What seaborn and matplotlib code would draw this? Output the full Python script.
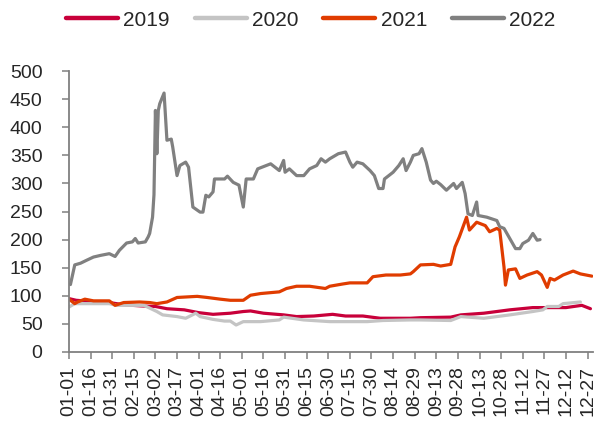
import matplotlib
matplotlib.use("Agg")
import matplotlib.pyplot as plt
import seaborn as sns
import pandas as pd

# ---- data (day-of-year index, value) ----
tick_labels = ["01-01", "01-16", "01-31", "02-15", "03-02", "03-17", "04-01", "04-16",
               "05-01", "05-16", "05-31", "06-15", "06-30", "07-15", "07-30", "08-14",
               "08-29", "09-13", "09-28", "10-13", "10-28", "11-12", "11-27", "12-12", "12-27"]
years = ["2019", "2020", "2021", "2022"]

days_2019 = [0, 5, 15, 28, 38, 50, 60, 68, 80, 90, 100, 112, 121, 126, 135, 149, 158, 170,
             183, 192, 204, 216, 237, 244, 265, 272, 288, 306, 322, 331, 345, 356, 362]
vals_2019 = [95, 92, 90, 88, 84, 82, 81, 77, 75, 70, 67, 69, 72, 73, 69, 66, 63, 64,
             67, 64, 64, 60, 60, 61, 62, 66, 69, 75, 79, 79, 79, 83, 77]

days_2020 = [0, 4, 12, 28, 33, 52, 61, 65, 75, 81, 88, 91, 100, 108, 112, 116, 121, 133,
             146, 149, 163, 181, 207, 218, 237, 244, 265, 272, 288, 306, 322, 329, 332,
             340, 343, 355]
vals_2020 = [80, 86, 86, 86, 83, 83, 72, 66, 63, 60, 69, 63, 58, 55, 55, 48, 54, 54,
             57, 62, 57, 54, 54, 56, 57, 57, 56, 63, 60, 66, 72, 75, 81,
             81, 86, 89]

days_2021 = [0, 4, 6, 11, 17, 28, 32, 38, 49, 56, 61, 68, 75, 89, 96, 105, 112, 121, 126,
             133, 146, 151, 158, 167, 178, 181, 190, 195, 207, 211, 220, 230, 237, 239,
             244, 253, 258, 265, 268, 271, 276, 278, 283, 289, 292, 297, 299, 302, 303,
             305, 310, 313, 318, 325, 328, 332, 334, 337, 343, 350, 355, 363]
vals_2021 = [94, 86, 89, 94, 91, 91, 83, 88, 89, 88, 86, 89, 97, 99, 97, 94, 92, 92, 101,
             104, 107, 113, 117, 117, 113, 117, 121, 123, 123, 134, 137, 137, 139, 143,
             155, 156, 153, 156, 187, 205, 240, 217, 231, 225, 214, 220, 217, 151, 119,
             146, 148, 131, 137, 143, 137, 115, 131, 128, 137, 144, 139, 135]

days_2022 = [1, 4, 8, 12, 17, 22, 28, 32, 35, 40, 44, 46, 48, 53, 55, 56, 58, 59, 60, 61,
             62, 63, 66, 68, 71, 72, 75, 77, 81, 83, 86, 91, 93, 95, 97, 100, 101, 108,
             110, 114, 118, 121, 123, 128, 131, 137, 140, 146, 149, 150, 153, 158, 163,
             167, 172, 175, 178, 181, 187, 192, 195, 197, 200, 204, 209, 212, 215, 218,
             219, 225, 229, 232, 234, 237, 239, 243, 245, 248, 251, 253, 255, 258, 262,
             267, 269, 273, 275, 277, 280, 283, 284, 290, 297, 299, 302, 304, 310, 313,
             315, 319, 322, 325, 327]
vals_2022 = [120, 155, 158, 163, 169, 172, 175, 170, 181, 194, 196, 202, 194, 196, 205,
             211, 240, 280, 430, 353, 430, 442, 461, 377, 379, 365, 314, 332, 338, 329,
             258, 249, 249, 279, 276, 285, 308, 308, 313, 302, 297, 258, 308, 308, 326,
             332, 335, 323, 341, 320, 326, 314, 314, 326, 332, 344, 338, 344, 353, 356,
             338, 329, 338, 335, 323, 314, 291, 291, 308, 320, 332, 344, 323, 338, 350,
             353, 362, 338, 306, 300, 304, 298, 288, 300, 291, 302, 282, 246, 243, 267,
             243, 240, 234, 223, 220, 211, 184, 184, 193, 199, 211, 199, 200]

colors = ["#C8003A", "#C4C4C4", "#E03C00", "#808080"]

# ---- long-form table ----
frames = []
for y, d, v in zip(years, [days_2019, days_2020, days_2021, days_2022],
                   [vals_2019, vals_2020, vals_2021, vals_2022]):
    frames.append(pd.DataFrame({"day": d, "value": v, "year": y}))
df = pd.concat(frames, ignore_index=True)

sns.set_style("white")
plt.rcParams["font.family"] = ["Liberation Sans", "DejaVu Sans"]

fig = plt.figure(figsize=(6.02, 4.21), dpi=100)
ax = fig.add_axes([0.1146, 0.164, 0.871, 0.667])

sns.lineplot(data=df, x="day", y="value", hue="year", hue_order=years,
             palette=colors, estimator=None, linewidth=2.3, ax=ax, legend=True)

handles, labels = ax.get_legend_handles_labels()
ax.get_legend().remove()
leg = fig.legend(handles, labels, loc="center", bbox_to_anchor=(0.516, 0.952),
                 ncol=4, frameon=False, fontsize=15, handlelength=2.5,
                 handletextpad=0.25, columnspacing=1.2)
for ln in leg.get_lines():
    ln.set_linewidth(3.2)
    ln.set_solid_capstyle("round")

ax.set_xlim(0, 364)
ax.set_ylim(0, 500)
ax.set_xticks(range(0, 361, 15))
ax.set_xticklabels(tick_labels, rotation=90)
ax.set_yticks(range(0, 501, 50))
ax.set_xlabel("")
ax.set_ylabel("")

for s in ["top", "right"]:
    ax.spines[s].set_visible(False)
for s in ["left", "bottom"]:
    ax.spines[s].set_color("#808080")
    ax.spines[s].set_linewidth(1.3)

ax.tick_params(axis="y", direction="out", length=5, width=1.1, color="#808080",
               labelsize=14, pad=14, left=True)
ax.tick_params(axis="x", direction="out", length=5, width=1.1, color="#808080",
               labelsize=14, pad=5, bottom=True)

fig.savefig("out.png", dpi=100)
